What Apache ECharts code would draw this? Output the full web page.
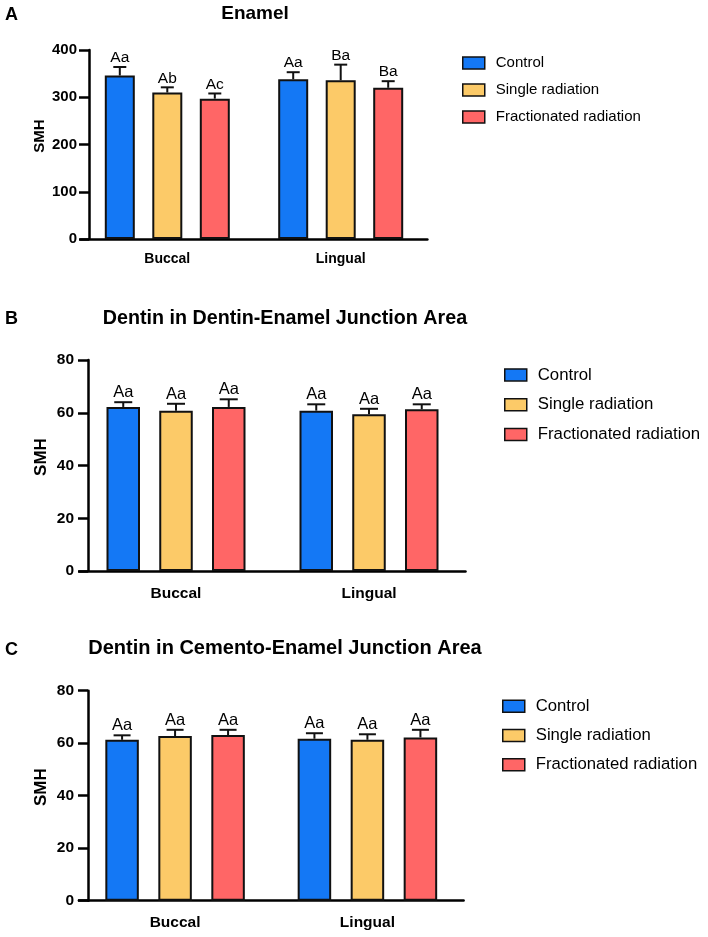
<!DOCTYPE html>
<html>
<head>
<meta charset="utf-8">
<script src="https://cdn.jsdelivr.net/npm/echarts@6/dist/echarts.min.js"></script>
<style>
  html, body { margin: 0; padding: 0; background: #fff; }
  #main { width: 708px; height: 937px; }
</style>
</head>
<body>
<div id="main"></div>
<script>
// 数据 s
var categories = ['Buccal', 'Lingual'];
var groups = ['Control', 'Single radiation', 'Fractionated radiation'];

// A 牙釉质 (每组: [Buccal, Lingual])
var enamelMean = [[346, 338], [310, 336], [297, 320]];
var enamelSd = [[18, 15], [11, 33], [11, 14]];
var enamelTag = [['Aa', 'Aa'], ['Ab', 'Ba'], ['Ac', 'Ba']];

// B 牙本质-釉质交界
var dejMean = [[62.2, 60.8], [60.8, 59.4], [62.2, 61.3]];
var dejSd = [[1.8, 2.4], [2.6, 2.1], [2.9, 1.9]];
var dejTag = [['Aa', 'Aa'], ['Aa', 'Aa'], ['Aa', 'Aa']];

// C 牙骨质-釉质交界
var cejMean = [[61.3, 61.7], [62.7, 61.3], [63.1, 62.2]];
var cejSd = [[1.7, 2.1], [2.4, 2.1], [2.0, 2.9]];
var cejTag = [['Aa', 'Aa'], ['Aa', 'Aa'], ['Aa', 'Aa']];

var yTicksEnamel = { min: 0, max: 400, interval: 100 };
var yTicksDentin = { min: 0, max: 80, interval: 20 };
// 数据 e

var FONT = '"Liberation Sans", Arial, sans-serif';
var colors = ['#1478f5', '#fcca68', '#ff6666'];

// 每个面板的布局
var panels = [
  {
    letter: 'A', title: 'Enamel', titleX: 250, titleY: -1, titleSize: 19, letterY: 6,
    mean: enamelMean, sd: enamelSd, tag: enamelTag, ticks: yTicksEnamel,
    grid: { left: 80.6, top: 50, width: 346.8, height: 189 }, yOffset: -8.4,
    barW: 30, step: 47.5, cap: 6.5, tick: 15, cat: 14, catMargin: 13, yMargin: 12, smh: 15, smhGap: 42, tagSize: 15.5,
    legend: { left: 462, top: 55, font: 15, gap: 11 }
  },
  {
    letter: 'B', title: 'Dentin in Dentin-Enamel Junction Area', titleX: 280, titleY: 303.5, titleSize: 19.7, letterY: 310,
    mean: dejMean, sd: dejSd, tag: dejTag, ticks: yTicksDentin,
    grid: { left: 79.5, top: 360, width: 386, height: 211 }, yOffset: -8.5,
    barW: 33.5, step: 52.75, cap: 9, tick: 15.5, cat: 15.5, catMargin: 15, yMargin: 14, smh: 17, smhGap: 38, tagSize: 16.5,
    legend: { left: 504, top: 366, font: 16.8, gap: 12 }
  },
  {
    letter: 'C', title: 'Dentin in Cemento-Enamel Junction Area', titleX: 280, titleY: 633, titleSize: 20, letterY: 641,
    mean: cejMean, sd: cejSd, tag: cejTag, ticks: yTicksDentin,
    grid: { left: 78.9, top: 690.7, width: 384.7, height: 210 }, yOffset: -9.1,
    barW: 33.5, step: 53, cap: 8.5, tick: 15.5, cat: 15.5, catMargin: 14, yMargin: 14, smh: 17, smhGap: 38, tagSize: 16.5,
    legend: { left: 502, top: 697.5, font: 16.7, gap: 11.5 }
  }
];

var option = {
  backgroundColor: '#fff',
  animation: false,
  title: [], grid: [], xAxis: [], yAxis: [], legend: [], series: []
};

panels.forEach(function (p, k) {
  option.title.push({
    text: p.letter, left: 5, top: p.letterY, padding: 0,
    textStyle: { fontFamily: FONT, fontWeight: 'bold', fontSize: 18, color: '#000' }
  });
  option.title.push({
    text: p.title, left: p.titleX, top: p.titleY, textAlign: 'center',
    textStyle: { fontFamily: FONT, fontWeight: 'bold', fontSize: p.titleSize, color: '#000' }
  });

  option.grid.push(Object.assign({ containLabel: false }, p.grid));

  option.xAxis.push({
    type: 'category', gridIndex: k, data: categories,
    axisLine: { lineStyle: { color: '#000', width: 2.5 } },
    axisTick: { alignWithLabel: true, length: 9, lineStyle: { color: '#000', width: 2.5 } },
    axisLabel: { color: '#000', fontFamily: FONT, fontWeight: 'bold', fontSize: p.cat, margin: p.catMargin },
    splitLine: { show: false }
  });

  option.yAxis.push({
    type: 'value', gridIndex: k,
    min: p.ticks.min, max: p.ticks.max, interval: p.ticks.interval,
    offset: p.yOffset,
    name: 'SMH', nameLocation: 'middle', nameGap: p.smhGap, nameMoveOverlap: false,
    nameTextStyle: { color: '#000', fontFamily: FONT, fontWeight: 'bold', fontSize: p.smh, padding: [0, 0, 0, 17] },
    axisLine: { show: true, lineStyle: { color: '#000', width: 2.5 } },
    axisTick: { show: true, length: 10, lineStyle: { color: '#000', width: 2.5 } },
    axisLabel: { color: '#000', fontFamily: FONT, fontWeight: 'bold', fontSize: p.tick, margin: p.yMargin },
    splitLine: { show: false }
  });

  option.legend.push({
    data: groups, orient: 'vertical', left: p.legend.left, top: p.legend.top, padding: 0,
    icon: 'rect', itemWidth: 22, itemHeight: 12, itemGap: p.legend.gap,
    itemStyle: { borderColor: '#111', borderWidth: 1.5 },
    textStyle: { fontFamily: FONT, fontSize: p.legend.font, color: '#000', lineHeight: p.legend.font + 1, padding: [0, 0, 0, 6] },
    selectedMode: false
  });

  groups.forEach(function (g, i) {
    option.series.push({
      name: g, type: 'bar', xAxisIndex: k, yAxisIndex: k,
      data: p.mean[i],
      barWidth: p.barW,
      barGap: ((p.step - p.barW) / p.barW * 100) + '%',
      itemStyle: { color: colors[i], borderColor: '#111', borderWidth: 2 },
      z: 2
    });
  });

  // 误差线 + 显著性字母
  groups.forEach(function (g, i) {
    option.series.push({
      type: 'custom', xAxisIndex: k, yAxisIndex: k, z: 5, silent: true,
      data: categories.map(function (c, j) { return [j, p.mean[i][j], p.sd[i][j]]; }),
      renderItem: function (params, api) {
        var base = api.coord([api.value(0), api.value(1)]);
        var top = api.coord([api.value(0), api.value(1) + api.value(2)]);
        var cx = base[0] + (i - 1) * p.step;
        var st = { stroke: '#111', lineWidth: 2 };
        return {
          type: 'group',
          children: [
            { type: 'line', shape: { x1: cx, y1: base[1], x2: cx, y2: top[1] }, style: st },
            { type: 'line', shape: { x1: cx - p.cap, y1: top[1], x2: cx + p.cap, y2: top[1] }, style: st },
            {
              type: 'text',
              style: {
                text: p.tag[i][params.dataIndex], x: cx, y: top[1] - 1,
                align: 'center', verticalAlign: 'bottom',
                font: p.tagSize + 'px ' + FONT, fill: '#000'
              }
            }
          ]
        };
      }
    });
  });
});

var myChart = echarts.init(document.getElementById('main'), null, { renderer: 'canvas' });
myChart.setOption(option);
</script>
</body>
</html>
